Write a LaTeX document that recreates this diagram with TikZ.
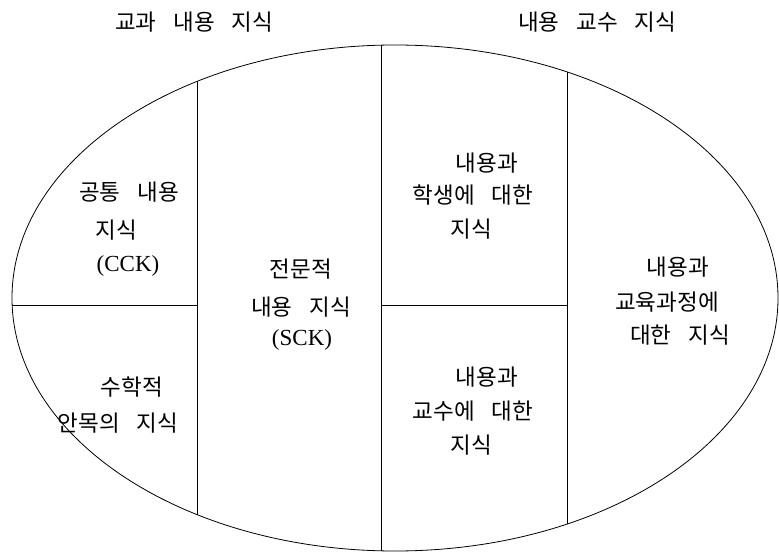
\documentclass[tikz,border=0pt]{standalone}
\usepackage{fontspec}
\usetikzlibrary{shapes.geometric}
\newfontfamily\kr{Noto Sans CJK KR}
\newfontfamily\latserif{Liberation Serif}
\begin{document}
\begin{tikzpicture}[x=1pt,y=-1pt,
  lbl/.style={font=\kr\fontsize{22.5}{24}\selectfont, inner sep=0pt, anchor=center},
  lat/.style={font=\latserif\fontsize{23}{24}\selectfont, inner sep=0pt, anchor=center},
  edge/.style={line width=0.8pt, black}]
\useasboundingbox (0,0) rectangle (779,553);
\newcommand\ks{\hspace{0.75em}}
% ellipse
\node[draw, edge, ellipse, minimum width=766pt, minimum height=506pt, inner sep=0pt] (ell) at (395,298) {};
% division coordinates
\coordinate (l1t) at (197,81);  \coordinate (l1b) at (197,515);
\coordinate (l2t) at (381,45);  \coordinate (l2b) at (381,551);
\coordinate (l3t) at (567,72);  \coordinate (l3b) at (567,524);
\coordinate (h1a) at (12,305);  \coordinate (h1b) at (197,305);
\coordinate (h2a) at (381,305); \coordinate (h2b) at (567,305);
\draw[edge] (l1t) -- (l1b);
\draw[edge] (l2t) -- (l2b);
\draw[edge] (l3t) -- (l3b);
\draw[edge] (h1a) -- (h1b);
\draw[edge] (h2a) -- (h2b);
% titles
\node[lbl] (t1) at (194,22) {교과\ks 내용\ks 지식};
\node[lbl] (t2) at (597,22) {내용\ks 교수\ks 지식};
% CCK
\node[lbl] (c1) at (129,192) {공통\ks 내용};
\node[lbl] (c2) at (116,230) {지식};
\node[lat] (c3) at (128,266) {(CCK)};
% horizon
\node[lbl] (m1) at (132,387) {수학적};
\node[lbl] (m2) at (118,423) {안목의\ks 지식};
% SCK
\node[lbl] (s1) at (301,269) {전문적};
\node[lbl] (s2) at (301,307) {내용\ks 지식};
\node[lat] (s3) at (302,340) {(SCK)};
% KCS
\node[lbl] (k1) at (487,163) {내용과};
\node[lbl] (k2) at (473,195) {학생에\ks 대한};
\node[lbl] (k3) at (471,229) {지식};
% KCT
\node[lbl] (q1) at (487,377) {내용과};
\node[lbl] (q2) at (473,411) {교수에\ks 대한};
\node[lbl] (q3) at (471,445) {지식};
% KCC
\node[lbl] (r1) at (678,267) {내용과};
\node[lbl] (r2) at (667,302) {교육과정에};
\node[lbl] (r3) at (680,335) {대한\ks 지식};
\end{tikzpicture}
\end{document}
